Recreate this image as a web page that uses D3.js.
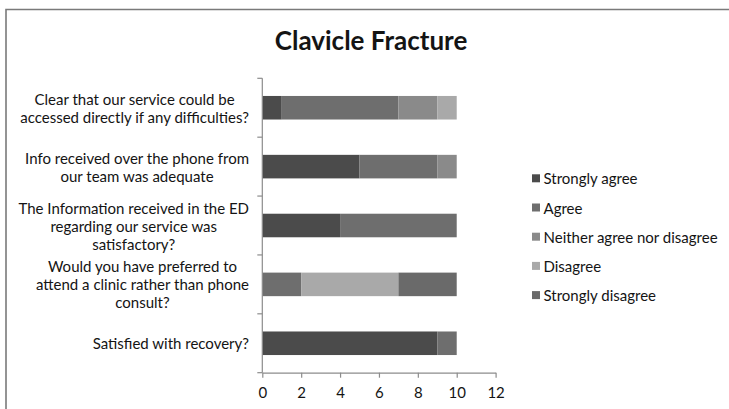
<!DOCTYPE html>
<html><head><meta charset="utf-8">
<script src="https://cdn.jsdelivr.net/npm/d3@7"></script>
<style>
html,body{margin:0;padding:0;background:#fff;}
svg{display:block;}
text{font-family:Lato, "Open Sans", sans-serif;fill:#141414;}
</style></head>
<body>
<svg id="chart" width="729" height="409"></svg>
<script>
const title = "Clavicle Fracture";
const categories = [
  ["Clear that our service could be", "accessed directly if any difficulties?"],
  ["Info received over the phone from", "our team was adequate"],
  ["The Information received in the ED", "regarding our service was", "satisfactory?"],
  ["Would you have preferred to", "attend a clinic rather than phone", "consult?"],
  ["Satisfied with recovery?"]
];
const seriesNames = ["Strongly agree", "Agree", "Neither agree nor disagree", "Disagree", "Strongly disagree"];
const stronglyAgree = [1, 5, 4, 0, 9];
const agree         = [6, 4, 6, 2, 1];
const neither       = [2, 1, 0, 0, 0];
const disagree      = [1, 0, 0, 5, 0];
const stronglyDis   = [0, 0, 0, 3, 0];
const xTicks = [0, 2, 4, 6, 8, 10, 12];
const colors = ["#4b4b4b", "#6e6e6e", "#8a8a8a", "#a9a9a9", "#6a6a6a"];

const seriesValues = [stronglyAgree, agree, neither, disagree, stronglyDis];
const rows = categories.map((c, i) => {
  const r = {idx: i};
  seriesNames.forEach((s, j) => r[s] = seriesValues[j][i]);
  return r;
});

const svg = d3.select("#chart");

// frame
svg.append("path").attr("d", "M6,409 V9.5 H729").attr("fill", "none")
  .attr("stroke", "#7a7a7a").attr("stroke-width", 1.6);

const x = d3.scaleLinear().domain([0, 12]).range([262.3, 495.6]);
const y = d3.scaleBand().domain(d3.range(categories.length)).range([78.3, 372.7]).padding(0);

const stack = d3.stack().keys(seriesNames)(rows);

const barH = y.bandwidth() * 0.4;
svg.append("g").selectAll("g").data(stack).join("g")
  .attr("fill", (d, i) => colors[i])
  .selectAll("rect").data(d => d).join("rect")
  .attr("x", d => x(d[0]))
  .attr("width", d => x(d[1]) - x(d[0]))
  .attr("y", d => y(d.data.idx) + (y.bandwidth() - barH) / 2)
  .attr("height", barH);

// y axis
const axisColor = "#8c8c8c";
svg.append("line").attr("x1", x(0)).attr("x2", x(0)).attr("y1", y.range()[0]).attr("y2", y.range()[1])
  .attr("stroke", axisColor).attr("stroke-width", 1.2);
const bounds = d3.range(categories.length + 1).map(i => i < categories.length ? y(i) : y.range()[1]);
svg.append("g").selectAll("line").data(bounds).join("line")
  .attr("x1", x(0) - 5).attr("x2", x(0)).attr("y1", d => d).attr("y2", d => d)
  .attr("stroke", axisColor).attr("stroke-width", 1.2);

// x axis
const xAxis = d3.axisBottom(x).tickValues(xTicks).tickSize(5).tickPadding(10).tickSizeOuter(0);
const gx = svg.append("g").attr("transform", `translate(0,${y.range()[1]})`).call(xAxis);
gx.select(".domain").attr("stroke", axisColor).attr("stroke-width", 1.2);
gx.selectAll(".tick line").attr("stroke", axisColor).attr("stroke-width", 1.2);
gx.selectAll(".tick text").attr("font-family", "Lato, sans-serif").attr("font-size", 15).attr("fill", "#141414");

// category labels
const lineH = 18;
const labG = svg.append("g");
categories.forEach((lines, i) => {
  const cy = y(i) + y.bandwidth() / 2;
  const g = labG.append("g");
  const t = g.selectAll("text").data(lines).join("text")
    .attr("font-size", 15)
    .attr("text-anchor", "middle")
    .attr("dominant-baseline", "central")
    .attr("y", (d, k) => cy + (k - (lines.length - 1) / 2) * lineH)
    .text(d => d);
  let maxW = 0;
  t.each(function() { maxW = Math.max(maxW, this.getComputedTextLength()); });
  t.attr("x", 249 - maxW / 2);
});

// title
svg.append("text").attr("x", 371).attr("y", 40).attr("text-anchor", "middle")
  .attr("dominant-baseline", "central").attr("font-size", 26).attr("font-weight", "bold")
  .attr("fill", "#0c0c0c").text(title);

// legend
const lg = svg.append("g");
seriesNames.forEach((s, i) => {
  const ly = 178.3 + i * 29.2;
  lg.append("rect").attr("x", 532).attr("y", ly - 4).attr("width", 8).attr("height", 8).attr("fill", colors[i]);
  lg.append("text").attr("x", 543.5).attr("y", ly).attr("dominant-baseline", "central")
    .attr("font-size", 15).text(s);
});
</script>
</body></html>
